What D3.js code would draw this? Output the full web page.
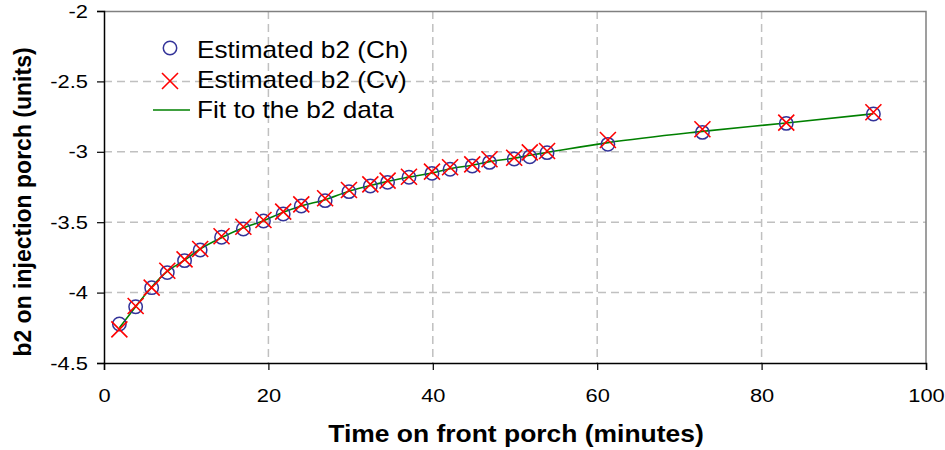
<!DOCTYPE html>
<html>
<head>
<meta charset="utf-8">
<script src="https://cdn.jsdelivr.net/npm/d3@7"></script>
<style>
  body { margin: 0; background: #fff; }
  text { font-family: "Liberation Sans", Arial, sans-serif; }
</style>
</head>
<body>
<div class="chart"></div>
<script>
var svgWidth = 945;
var svgHeight = 450;

var margin = { top: 11, right: 19, bottom: 87, left: 104 };
var width = svgWidth - margin.left - margin.right;
var height = svgHeight - margin.top - margin.bottom;

// horizontal text in the original is a bit stretched
var stretch = 1.15;

// Data
var timeMin = [1.87, 3.85, 5.8, 7.7, 9.8, 11.7, 14.3, 16.95, 19.4, 21.8, 24.0, 26.9, 29.8, 32.4,
  34.5, 37.1, 39.9, 42.1, 44.8, 46.9, 49.9, 51.8, 53.9, 61.3, 72.8, 83.0, 93.6];
var b2Ch = [-4.223, -4.10, -3.965, -3.858, -3.773, -3.697, -3.607, -3.548, -3.491, -3.442, -3.385,
  -3.347, -3.283, -3.243, -3.217, -3.181, -3.153, -3.124, -3.101, -3.075, -3.051, -3.035, -3.006,
  -2.947, -2.862, -2.798, -2.732];
var b2Cv = [-4.261, -4.095, -3.965, -3.845, -3.764, -3.690, -3.600, -3.532, -3.484, -3.425, -3.373,
  -3.330, -3.271, -3.231, -3.205, -3.177, -3.141, -3.110, -3.089, -3.053, -3.042, -3.004, -2.994,
  -2.916, -2.840, -2.793, -2.719];
var b2Fit = [-4.25, -4.10, -3.96, -3.85, -3.77, -3.69, -3.61, -3.54, -3.49, -3.43, -3.385, -3.34,
  -3.28, -3.24, -3.21, -3.18, -3.15, -3.12, -3.095, -3.07, -3.045, -3.025, -3.005, -2.935, -2.855,
  -2.795, -2.73];
var xTicks = [0, 20, 40, 60, 80, 100];
var yTicks = [-2, -2.5, -3, -3.5, -4, -4.5];
var legendLabels = ["Estimated b2 (Ch)", "Estimated b2 (Cv)", "Fit to the b2 data"];

var svg = d3.select(".chart")
  .append("svg")
  .attr("width", svgWidth)
  .attr("height", svgHeight);

var chartGroup = svg.append("g")
  .attr("transform", `translate(${margin.left}, ${margin.top})`);

var x = d3.scaleLinear().domain([0, 100]).range([0, width]);
var y = d3.scaleLinear().domain([-4.5, -2]).range([height, 0]);

// gridlines
chartGroup.selectAll(".hgrid")
  .data(yTicks.filter(d => d > -4.5 && d < -2))
  .enter().append("line")
  .attr("x1", 0).attr("x2", width)
  .attr("y1", d => y(d)).attr("y2", d => y(d))
  .attr("stroke", "#c0c0c0").attr("stroke-width", 1.5)
  .attr("stroke-dasharray", "8,5");

chartGroup.selectAll(".vgrid")
  .data(xTicks.filter(d => d > 0 && d < 100))
  .enter().append("line")
  .attr("x1", d => x(d)).attr("x2", d => x(d))
  .attr("y1", 0).attr("y2", height)
  .attr("stroke", "#c0c0c0").attr("stroke-width", 1.5)
  .attr("stroke-dasharray", "8,5");

// plot border (top/right)
chartGroup.append("path")
  .attr("d", `M0,0.5H${width}V${height}`)
  .attr("fill", "none")
  .attr("stroke", "#808080")
  .attr("stroke-width", 1.5);

// axes
var xAxis = chartGroup.append("g")
  .attr("transform", `translate(0, ${height})`)
  .call(d3.axisBottom(x).tickValues(xTicks).tickSize(7).tickPadding(19).tickFormat(d => String(d)));

var yAxis = chartGroup.append("g")
  .call(d3.axisLeft(y).tickValues(yTicks).tickSize(7).tickFormat(d => String(d)));

[xAxis, yAxis].forEach(function(ax) {
  ax.select(".domain").attr("stroke", "#000").attr("stroke-width", 1.5);
  ax.selectAll(".tick line").attr("stroke", "#000").attr("stroke-width", 1.2);
  ax.selectAll(".tick text")
    .attr("fill", "#000")
    .style("font-size", "19px")
    .style("font-family", "'Liberation Sans', Arial, sans-serif");
});
xAxis.selectAll(".tick text")
  .attr("transform", `translate(0, 0) scale(${stretch}, 1)`);
yAxis.selectAll(".tick text")
  .attr("x", 0)
  .attr("transform", `translate(-16, 0) scale(${stretch}, 1)`);

// fit line
var fitData = timeMin.map((t, i) => [t, b2Fit[i]]);
chartGroup.append("path")
  .datum(fitData)
  .attr("fill", "none")
  .attr("stroke", "#008000")
  .attr("stroke-width", 1.6)
  .attr("d", d3.line().x(d => x(d[0])).y(d => y(d[1])).curve(d3.curveMonotoneX));

// circles (Ch)
chartGroup.selectAll(".ch")
  .data(timeMin.map((t, i) => [t, b2Ch[i]]))
  .enter().append("circle")
  .attr("cx", d => x(d[0]))
  .attr("cy", d => y(d[1]))
  .attr("r", 6.7)
  .attr("fill", "none")
  .attr("stroke", "#333399")
  .attr("stroke-width", 1.5);

// crosses (Cv)
var cross = "M-8,-8L8,8M-8,8L8,-8";
chartGroup.selectAll(".cv")
  .data(timeMin.map((t, i) => [t, b2Cv[i]]))
  .enter().append("path")
  .attr("transform", d => `translate(${x(d[0])},${y(d[1])})`)
  .attr("d", cross)
  .attr("fill", "none")
  .attr("stroke", "#ff0000")
  .attr("stroke-width", 1.6);

// legend
var legend = svg.append("g");
legend.append("circle")
  .attr("cx", 170).attr("cy", 48).attr("r", 6.7)
  .attr("fill", "none").attr("stroke", "#333399").attr("stroke-width", 1.5);
legend.append("path")
  .attr("transform", "translate(170, 81)")
  .attr("d", cross)
  .attr("fill", "none").attr("stroke", "#ff0000").attr("stroke-width", 1.6);
legend.append("line")
  .attr("x1", 153).attr("x2", 190).attr("y1", 110).attr("y2", 110)
  .attr("stroke", "#008000").attr("stroke-width", 1.6);
legend.selectAll(".ltext")
  .data(legendLabels)
  .enter().append("text")
  .attr("transform", (d, i) => `translate(197, ${58 + i * 30}) scale(1.14, 1)`)
  .style("font-size", "23px")
  .text(d => d);

// axis titles
svg.append("text")
  .attr("transform", "rotate(-90)")
  .attr("x", -202)
  .attr("y", 31)
  .attr("text-anchor", "middle")
  .style("font-size", "23px")
  .style("font-weight", "bold")
  .text("b2 on injection porch (units)");

svg.append("text")
  .attr("transform", `translate(${margin.left + width / 2 + 1}, 442) scale(${stretch}, 1)`)
  .attr("text-anchor", "middle")
  .style("font-size", "23px")
  .style("font-weight", "bold")
  .text("Time on front porch (minutes)");
</script>
</body>
</html>
